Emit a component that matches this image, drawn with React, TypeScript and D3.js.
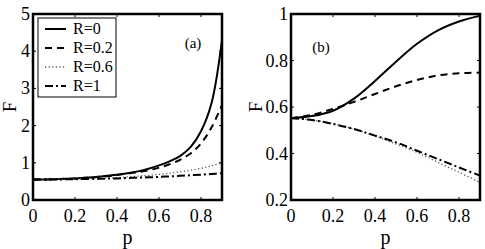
import { useEffect, useRef } from "react";
import * as d3 from "d3";

// p grid (panel a uses a finer grid near the blow-up at p -> 0.9)
const pA = [0, 0.05, 0.1, 0.15, 0.2, 0.25, 0.3, 0.35, 0.4, 0.45, 0.5, 0.55, 0.6, 0.65, 0.7, 0.75, 0.8, 0.85, 0.9];
const pB = [0, 0.1, 0.2, 0.3, 0.4, 0.5, 0.6, 0.7, 0.8, 0.9];

const labels = ["R=0", "R=0.2", "R=0.6", "R=1"];

// panel (a)
const aR0 = [0.55, 0.552, 0.56, 0.57, 0.58, 0.6, 0.62, 0.65, 0.68, 0.72, 0.77, 0.84, 0.93, 1.04, 1.18, 1.42, 1.85, 2.6, 4.3];
const aR02 = [0.55, 0.552, 0.56, 0.57, 0.58, 0.6, 0.62, 0.64, 0.67, 0.71, 0.75, 0.8, 0.87, 0.96, 1.08, 1.25, 1.52, 1.95, 2.55];
const aR06 = [0.55, 0.55, 0.555, 0.56, 0.565, 0.57, 0.58, 0.59, 0.6, 0.62, 0.64, 0.66, 0.69, 0.72, 0.76, 0.8, 0.85, 0.92, 1.0];
const aR1 = [0.55, 0.55, 0.552, 0.555, 0.56, 0.565, 0.57, 0.575, 0.58, 0.59, 0.6, 0.61, 0.62, 0.635, 0.65, 0.665, 0.68, 0.7, 0.72];

// panel (b)
const bR0 = [0.552, 0.561, 0.584, 0.636, 0.712, 0.795, 0.872, 0.93, 0.968, 0.993];
const bR02 = [0.552, 0.566, 0.592, 0.622, 0.656, 0.689, 0.716, 0.736, 0.745, 0.748];
const bR06 = [0.552, 0.545, 0.528, 0.505, 0.475, 0.441, 0.405, 0.362, 0.319, 0.276];
const bR1 = [0.552, 0.544, 0.527, 0.505, 0.477, 0.448, 0.412, 0.376, 0.34, 0.305];

const xTicks = [0, 0.2, 0.4, 0.6, 0.8];
const yTicksA = [0, 1, 2, 3, 4, 5];
const yTicksB = [0.2, 0.4, 0.6, 0.8, 1];

const W = 485;
const H = 249;
const font = "Liberation Serif, Times New Roman, Times, serif";

// line styles per series
const styles = [
  { dash: null, color: "#000", w: 2 },
  { dash: "7,5", color: "#000", w: 2 },
  { dash: "1.2,2.4", color: "#555", w: 1.3 },
  { dash: "8,3,2,3", color: "#000", w: 2 },
];

export default function App() {
  const ref = useRef<SVGSVGElement>(null);

  useEffect(() => {
    const svg = d3.select(ref.current);
    svg.selectAll("*").remove();

    const panel = (
      left: number,
      right: number,
      yDomain: [number, number],
      yTicks: number[],
      ps: number[],
      series: number[][],
      tag: string,
      tagPos: [number, number],
      fLabelX: number,
      yFmt: (d: number) => string
    ) => {
      const top = 14;
      const bottom = 200;
      const x = d3.scaleLinear().domain([0, 0.9]).range([left, right]);
      const y = d3.scaleLinear().domain(yDomain).range([bottom, top]);
      const g = svg.append("g");

      const clipId = "clip-" + tag.replace(/\W/g, "");
      g.append("clipPath").attr("id", clipId).append("rect")
        .attr("x", left).attr("y", top).attr("width", right - left).attr("height", bottom - top);

      const line = d3.line<number>()
        .x((_, i) => x(ps[i]))
        .y((d) => y(d))
        .curve(d3.curveCatmullRom.alpha(0.5));

      series.forEach((s, i) => {
        const st = styles[i];
        g.append("path")
          .attr("d", line(s) as string)
          .attr("fill", "none")
          .attr("stroke", st.color)
          .attr("stroke-width", st.w)
          .attr("stroke-dasharray", st.dash)
          .attr("clip-path", `url(#${clipId})`);
      });

      // ticks inward on all four sides
      xTicks.forEach((t) => {
        if (t === 0) return;
        g.append("line").attr("x1", x(t)).attr("x2", x(t)).attr("y1", bottom).attr("y2", bottom - 3).attr("stroke", "#000");
        g.append("line").attr("x1", x(t)).attr("x2", x(t)).attr("y1", top).attr("y2", top + 3).attr("stroke", "#000");
      });
      yTicks.forEach((t) => {
        g.append("line").attr("x1", left).attr("x2", left + 3).attr("y1", y(t)).attr("y2", y(t)).attr("stroke", "#000");
        g.append("line").attr("x1", right).attr("x2", right - 3).attr("y1", y(t)).attr("y2", y(t)).attr("stroke", "#000");
      });

      g.append("rect")
        .attr("x", left).attr("y", top)
        .attr("width", right - left).attr("height", bottom - top)
        .attr("fill", "none").attr("stroke", "#000").attr("stroke-width", 2.5);

      // tick labels
      g.selectAll(".xt").data(xTicks).enter().append("text")
        .attr("x", (d) => x(d)).attr("y", 222)
        .attr("text-anchor", "middle")
        .style("font-family", font).attr("font-size", 18)
        .text((d) => (d === 0 ? "0" : d.toFixed(1)));
      g.selectAll(".yt").data(yTicks).enter().append("text")
        .attr("x", left - 3).attr("y", (d) => y(d) + 6)
        .attr("text-anchor", "end")
        .style("font-family", font).attr("font-size", 18)
        .text(yFmt);

      g.append("text")
        .attr("x", (left + right) / 2).attr("y", 244)
        .attr("text-anchor", "middle")
        .style("font-family", font).attr("font-size", 20)
        .text("p");
      g.append("text")
        .attr("transform", `translate(${fLabelX},107) rotate(-90)`)
        .attr("text-anchor", "middle")
        .style("font-family", font).attr("font-size", 19)
        .text("F");

      g.append("text")
        .attr("x", tagPos[0]).attr("y", tagPos[1])
        .attr("text-anchor", "middle")
        .style("font-family", font).attr("font-size", 15)
        .text(tag);
    };

    panel(33, 222, [0, 5], yTicksA, pA, [aR0, aR02, aR06, aR1], "(a)", [193, 48], 16,
      (d) => String(d));
    panel(291, 480, [0.2, 1], yTicksB, pB, [bR0, bR02, bR06, bR1], "(b)", [321, 52], 262,
      (d) => (d === 1 ? "1" : d.toFixed(1)));

    // legend in panel (a)
    const lg = svg.append("g");
    lg.append("rect")
      .attr("x", 38).attr("y", 18).attr("width", 78).attr("height", 79)
      .attr("fill", "#fff").attr("stroke", "#000").attr("stroke-width", 1);
    const ly = d3.scalePoint<string>().domain(labels).range([29, 86]);
    labels.forEach((l, i) => {
      const st = styles[i];
      lg.append("line")
        .attr("x1", 45).attr("x2", 66)
        .attr("y1", ly(l) as number).attr("y2", ly(l) as number)
        .attr("stroke", st.color).attr("stroke-width", st.w)
        .attr("stroke-dasharray", st.dash);
      lg.append("text")
        .attr("x", 73).attr("y", (ly(l) as number) + 5)
        .style("font-family", font).attr("font-size", 16)
        .text(l);
    });
  }, []);

  return (
    <svg
      ref={ref}
      width={W}
      height={H}
      style={{ position: "absolute", left: 0, top: 0, background: "#fff" }}
    />
  );
}
